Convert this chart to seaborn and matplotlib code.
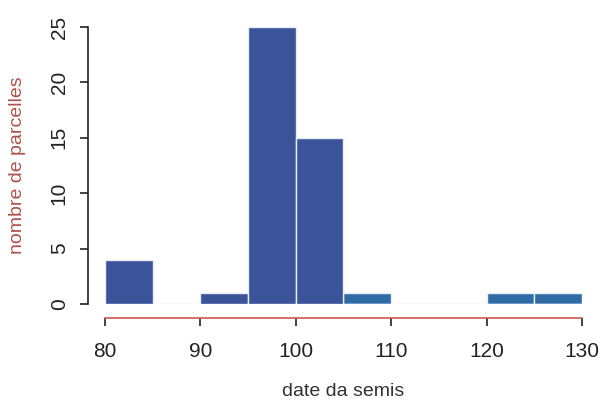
import matplotlib
matplotlib.use("Agg")
import matplotlib.pyplot as plt
import seaborn as sns
import pandas as pd

# sowing-date classes (5-day bins) and number of plots in each
bin_edges = [80, 85, 90, 95, 100, 105, 110, 115, 120, 125, 130]
bin_counts = [4, 0, 1, 25, 15, 1, 0, 0, 1, 1]
bin_group = ["a", "a", "a", "a", "a", "b", "b", "b", "b", "b"]

x_ticks = [80, 90, 100, 110, 120, 130]
y_ticks = [0, 5, 10, 15, 20, 25]

sns.set_theme(style="ticks")
plt.rcParams["font.family"] = ["Liberation Sans", "DejaVu Sans"]

centers = [(a + b) / 2 for a, b in zip(bin_edges[:-1], bin_edges[1:])]
df = pd.DataFrame({"date": centers, "n": bin_counts, "grp": bin_group})
df = df[df["n"] > 0]

fig = plt.figure(figsize=(6.04, 4.16), dpi=100)
ax = fig.add_axes([0.1738, 0.2692, 0.7897, 0.6659])

sns.histplot(data=df, x="date", weights="n", hue="grp", bins=bin_edges,
             multiple="layer", palette={"a": "#3a5399", "b": "#2f6ca6"},
             alpha=1.0, edgecolor="#e8eef6", linewidth=1.0,
             legend=False, ax=ax)

ax.set_xlim(80, 130)
ax.set_ylim(0, 25)
ax.set_xticks(x_ticks)
ax.set_yticks(y_ticks)

sns.despine(ax=ax, offset={"left": 12, "bottom": 10}, trim=True)
ax.spines["left"].set_color("#222222")
ax.spines["left"].set_linewidth(1.2)
ax.spines["bottom"].set_color("#c85a50")
ax.spines["bottom"].set_linewidth(1.2)

ax.tick_params(axis="both", labelsize=15, length=6, width=1.2, color="#222222",
               labelcolor="#222222")
ax.tick_params(axis="x", pad=11)
ax.tick_params(axis="y", pad=8, labelrotation=90)
for lab in ax.get_yticklabels():
    lab.set_verticalalignment("center")

ax.set_xlabel("date da semis", fontsize=14, color="#333333", labelpad=16)
ax.set_ylabel("nombre de parcelles", fontsize=14, color="#b0524c", labelpad=17)

fig.savefig("out.png", dpi=100)
